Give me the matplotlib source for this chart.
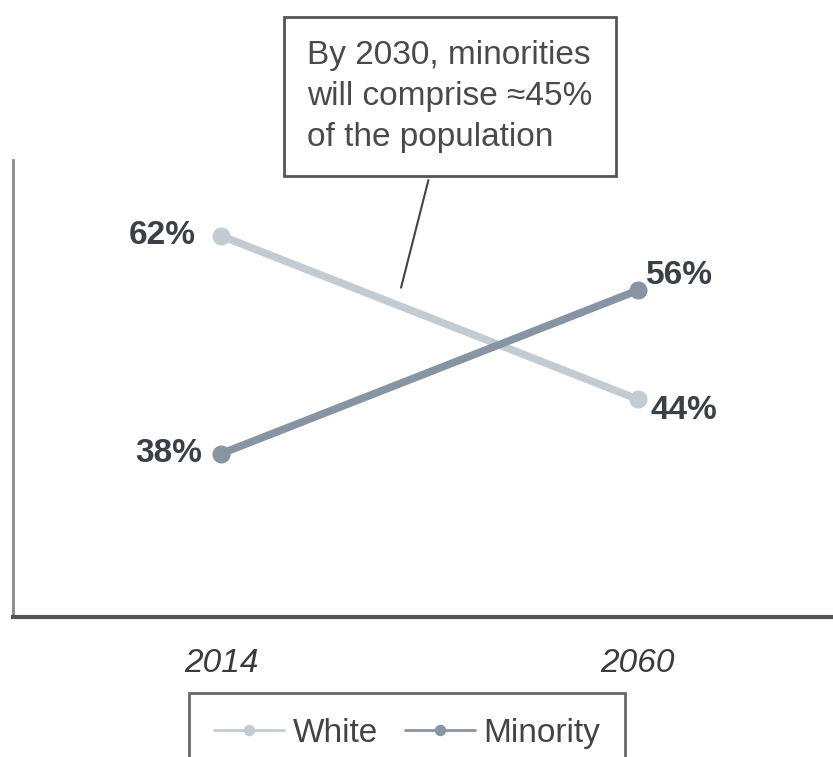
import matplotlib.pyplot as plt

# data
years = ["2014", "2060"]
white = [62, 44]
minority = [38, 56]
white_labels = ["62%", "44%"]
minority_labels = ["38%", "56%"]

plt.rcParams["font.family"] = ["Liberation Sans", "DejaVu Sans"]

fig = plt.figure(figsize=(8.33, 7.57), dpi=100)
ax = fig.add_axes([0.0156, 0.185, 1.0, 0.604])

x = list(range(len(years)))
c_white = "#c3cbd2"
c_min = "#8795a3"
ax.plot(x, white, color=c_white, lw=5.5, marker="o", ms=12, label="White", solid_capstyle="round")
ax.plot(x, minority, color=c_min, lw=5.5, marker="o", ms=12, label="Minority", solid_capstyle="round")

txt = "#3b3f46"
fs = 24
ax.annotate(white_labels[0], (x[0], white[0]), xytext=(-18, 0), textcoords="offset points",
            ha="right", va="center", fontsize=fs, fontweight="bold", color=txt)
ax.annotate(minority_labels[0], (x[0], minority[0]), xytext=(-14, 0), textcoords="offset points",
            ha="right", va="center", fontsize=fs, fontweight="bold", color=txt)
ax.annotate(minority_labels[1], (x[1], minority[1]), xytext=(6, 11), textcoords="offset points",
            ha="left", va="center", fontsize=fs, fontweight="bold", color=txt)
ax.annotate(white_labels[1], (x[1], white[1]), xytext=(9, -8), textcoords="offset points",
            ha="left", va="center", fontsize=fs, fontweight="bold", color=txt)

# callout box
ax.annotate("By 2030, minorities\nwill comprise \u224845%\nof the population",
            xy=(0.43, 56), xytext=(307 / 833, 1 - 40 / 757), textcoords="figure fraction",
            ha="left", va="top", fontsize=fs, color="#4a4a4a", linespacing=1.42,
            bbox=dict(boxstyle="square,pad=0.7", fc="white", ec="#555555", lw=2),
            arrowprops=dict(arrowstyle="-", color="#444444", lw=1.5),
            annotation_clip=False)

ax.set_xlim(-0.5, 1.5)
ax.set_ylim(20, 70.4)
ax.set_xticks(x)
ax.set_xticklabels(years, fontsize=fs, style="italic", color="#3b3b3b")
ax.tick_params(axis="x", length=0, pad=22)
ax.set_yticks([])
for s in ["top", "right"]:
    ax.spines[s].set_visible(False)
ax.spines["left"].set_color("#8a8a8a")
ax.spines["left"].set_linewidth(2)
ax.spines["bottom"].set_color("#555555")
ax.spines["bottom"].set_linewidth(3)

leg = ax.legend(loc="upper center", bbox_to_anchor=(0.473, -0.13), ncol=2, fontsize=fs,
                frameon=True, fancybox=False, edgecolor="#444444", handlelength=2.1,
                markerscale=0.6, columnspacing=0.8, handletextpad=0.25, borderpad=0.75,
                labelcolor="#444444")
leg.get_frame().set_linewidth(2)
for h in leg.get_lines():
    h.set_linewidth(2)

fig.savefig("out.png", dpi=100)
